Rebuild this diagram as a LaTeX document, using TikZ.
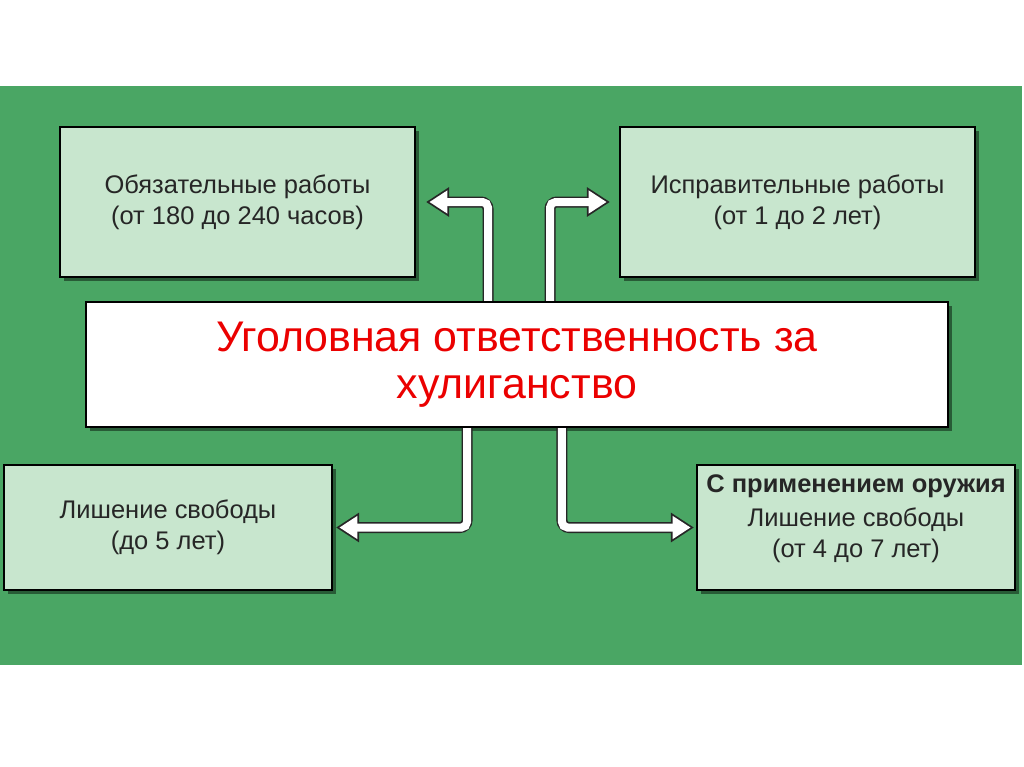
\documentclass[tikz,border=0pt]{standalone}
\usepackage{fontspec}
\setmainfont{Liberation Sans}
\usetikzlibrary{arrows.meta,positioning,shadows}
\definecolor{bggreen}{RGB}{74,166,100}
\definecolor{boxgreen}{RGB}{200,230,206}
\definecolor{titlered}{RGB}{235,0,0}

\begin{document}
\begin{tikzpicture}[x=0.02cm, y=-0.02cm,
  box/.style={draw=black, line width=1.2pt, fill=boxgreen, align=center, text=black!85,
    font=\fontsize{14.5}{17.8}\selectfont,
    drop shadow={shadow xshift=0.08cm, shadow yshift=-0.08cm, opacity=0.45, fill=black}},
  mainbox/.style={box, fill=white, text=titlered, font=\fontsize{24.4}{26.8}\selectfont},
  arrout/.style={draw=black!85, line width=0.22cm, rounded corners=0.14cm, -{Triangle[length=0.46cm, width=0.56cm]}},
  arrin/.style={draw=white, line width=0.16cm, rounded corners=0.11cm, shorten >=0.067cm, -{Triangle[length=0.358cm, width=0.436cm]}}
]
\useasboundingbox (0,0) rectangle (1024,767);
\fill[white] (0,0) rectangle (1024,767);
\fill[bggreen] (0,86) rectangle (1022,665);

\node[mainbox, minimum width=17.24cm, minimum height=2.5cm] (main) at (517,364.5) {Уголовная ответственность за\\хулиганство};

\node[box, minimum width=7.1cm, minimum height=3cm] (obyaz) at (237.5,202) {Обязательные работы\\(от 180 до 240 часов)};
\node[box, minimum width=7.1cm, minimum height=3cm] (ispr) at (797.5,202) {Исправительные работы\\(от 1 до 2 лет)};
\node[box, minimum width=6.56cm, minimum height=2.5cm] (lish) at (168,527.5) {Лишение свободы\\(до 5 лет)};
\node[box, minimum width=6.36cm, minimum height=2.5cm,
  label={[anchor=north, yshift=-0.1cm, font=\fontsize{14.5}{17.8}\selectfont\bfseries, text=black!85]north:С применением оружия}] (oruzh) at (856,527.5) {\\[0.05cm]Лишение свободы\\(от 4 до 7 лет)};

% arrows from the centre box
\draw[arrout] ([xshift=-0.58cm]main.north) |- ([xshift=0.2cm]obyaz.east);
\draw[arrin] ([xshift=-0.58cm]main.north) |- ([xshift=0.2cm]obyaz.east);
\draw[arrout] ([xshift=0.66cm]main.north) |- ([xshift=-0.18cm]ispr.west);
\draw[arrin] ([xshift=0.66cm]main.north) |- ([xshift=-0.18cm]ispr.west);
\draw[arrout] ([xshift=-1cm]main.south) |- ([xshift=0.06cm]lish.east);
\draw[arrin] ([xshift=-1cm]main.south) |- ([xshift=0.06cm]lish.east);
\draw[arrout] ([xshift=0.9cm]main.south) |- ([xshift=-0.04cm]oruzh.west);
\draw[arrin] ([xshift=0.9cm]main.south) |- ([xshift=-0.04cm]oruzh.west);
\end{tikzpicture}
\end{document}
